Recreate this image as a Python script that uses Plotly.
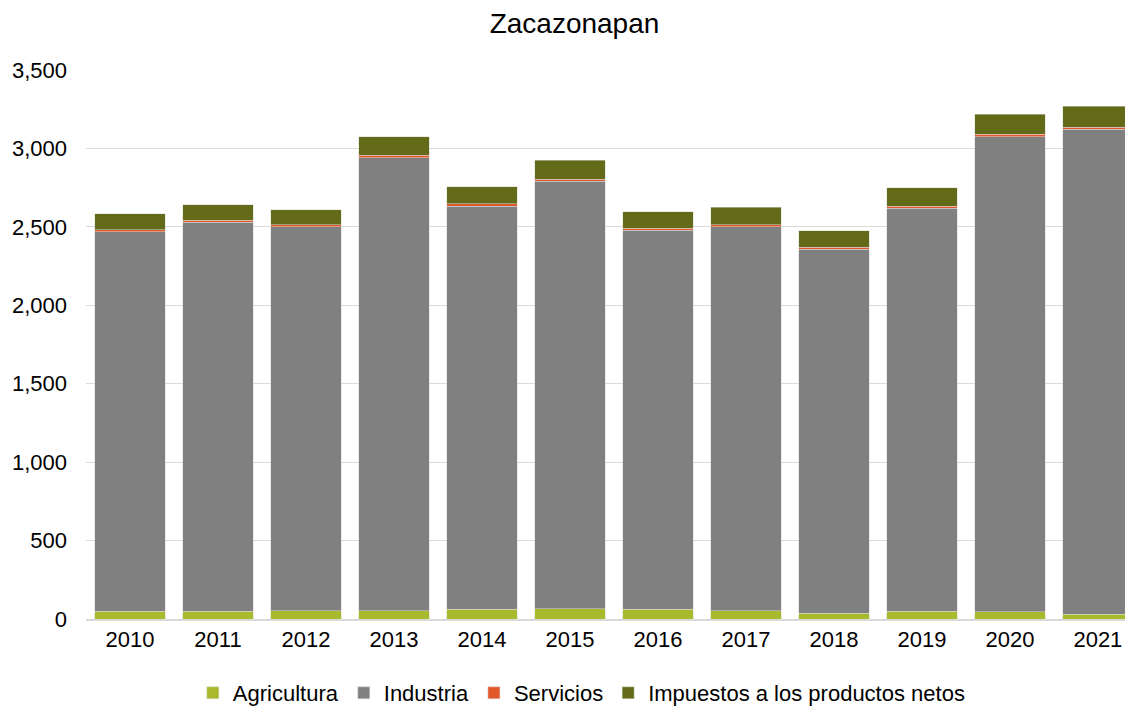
import plotly.graph_objects as go

years = ["2010", "2011", "2012", "2013", "2014", "2015", "2016", "2017", "2018", "2019", "2020", "2021"]
agricultura = [51, 49, 53, 53, 62, 64, 62, 53, 38, 51, 45, 30]
industria = [2419, 2479, 2449, 2889, 2571, 2728, 2415, 2449, 2319, 2567, 3031, 3091]
servicios = [13, 13, 13, 14, 14, 13, 13, 13, 13, 13, 13, 13]
impuestos = [99, 100, 94, 117, 109, 121, 107, 110, 105, 117, 130, 134]

series = [
    ("Agricultura", agricultura, "#A8B92B"),
    ("Industria", industria, "#808080"),
    ("Servicios", servicios, "#E2582A"),
    ("Impuestos a los productos netos", impuestos, "#636B19"),
]

fig = go.Figure()
for name, vals, color in series:
    fig.add_trace(go.Bar(
        x=years, y=vals, name=name,
        marker=dict(color=color, line=dict(color="#d8d8d8", width=0.5)),
    ))

fig.update_layout(
    barmode="stack",
    bargap=0.2,
    width=1133, height=706,
    margin=dict(l=78, r=0, t=62, b=95),
    paper_bgcolor="white", plot_bgcolor="white",
    font=dict(family="Liberation Sans, Arial, sans-serif", size=22, color="#000000"),
    title=dict(text="Zacazonapan", x=0.5, xanchor="center", y=0.978, yanchor="middle",
               font=dict(size=28, color="#000000")),
    legend=dict(orientation="h", x=0.47, xanchor="center", y=-0.135, yanchor="middle",
                font=dict(size=22), traceorder="normal", itemwidth=30),
    xaxis=dict(type="category", range=[-0.5, 11.49], showgrid=False, showline=True,
               linecolor="#d9d9d9", linewidth=1.5, ticks="", tickfont=dict(size=22)),
    yaxis=dict(range=[0, 3500], dtick=500, tickformat=",", showgrid=True,
               gridcolor="#d9d9d9", gridwidth=1.3, zeroline=False, showline=False,
               ticks="", ticklabelstandoff=18, tickfont=dict(size=22)),
)

fig.write_html("out.html")
